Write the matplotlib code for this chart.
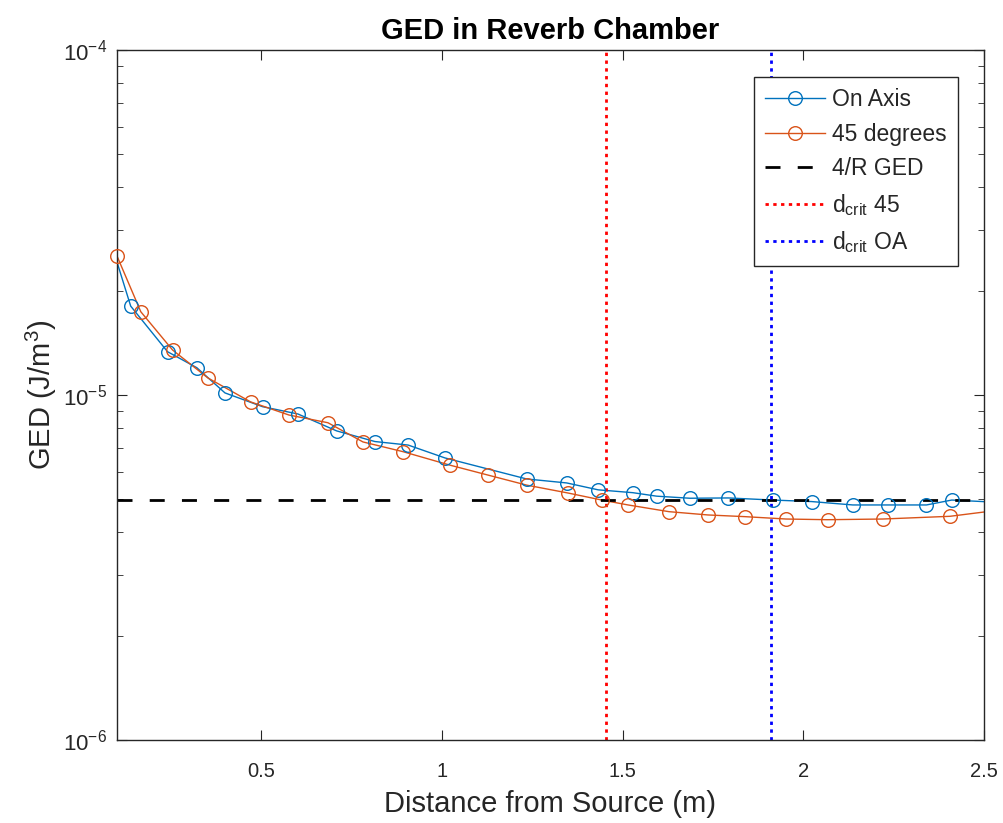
import numpy as np
import matplotlib
matplotlib.use("Agg")
import matplotlib.pyplot as plt
from matplotlib.lines import Line2D

plt.rcParams['font.family'] = ['Liberation Sans', 'DejaVu Sans']
plt.rcParams['mathtext.fontset'] = 'custom'
plt.rcParams['mathtext.rm'] = 'Liberation Sans'
plt.rcParams['mathtext.it'] = 'Liberation Sans'

# On Axis measurements (first and last values lie outside the x limits)
oa_x = [0.05, 0.138, 0.240, 0.321, 0.399, 0.503, 0.601, 0.708, 0.814, 0.906, 1.008,
        1.234, 1.345, 1.432, 1.528, 1.594, 1.686, 1.792, 1.916, 2.023, 2.137,
        2.234, 2.341, 2.411, 2.6]
oa_y = [3.58e-5, 1.81e-5, 1.335e-5, 1.20e-5, 1.014e-5, 9.25e-6, 8.81e-6, 7.87e-6,
        7.33e-6, 7.16e-6, 6.57e-6, 5.71e-6, 5.56e-6, 5.31e-6, 5.21e-6, 5.09e-6,
        5.02e-6, 5.03e-6, 4.96e-6, 4.91e-6, 4.80e-6, 4.80e-6, 4.80e-6, 4.96e-6,
        4.85e-6]

# 45 degrees measurements
d45_x = [0.1, 0.166, 0.254, 0.352, 0.470, 0.576, 0.684, 0.781, 0.892, 1.022, 1.127,
         1.234, 1.348, 1.442, 1.515, 1.628, 1.736, 1.838, 1.952, 2.067, 2.220,
         2.406, 2.6]
d45_y = [2.53e-5, 1.743e-5, 1.35e-5, 1.12e-5, 9.55e-6, 8.75e-6, 8.31e-6, 7.31e-6,
         6.85e-6, 6.26e-6, 5.86e-6, 5.48e-6, 5.20e-6, 4.96e-6, 4.80e-6, 4.59e-6,
         4.49e-6, 4.44e-6, 4.37e-6, 4.35e-6, 4.37e-6, 4.45e-6, 4.72e-6]

ged_4r = 4.97e-6
dcrit_45 = 1.454
dcrit_oa = 1.91
xlim = (0.1, 2.5)
ylim = (1e-6, 1e-4)

c_oa = '#0072BD'
c_45 = '#D95319'
axcol = '#262626'

fig = plt.figure(figsize=(10.04, 8.23), dpi=100)
ax = fig.add_axes([0.1165, 0.1009, 0.8635, 0.8383])
ax.set_yscale('log')

mk = dict(marker='o', markersize=9.8, markerfacecolor='none', markeredgewidth=1.0)

# lines (clipped) and markers (only inside limits, not clipped)
ax.plot(oa_x, oa_y, color=c_oa, lw=1.0)
ax.plot(d45_x, d45_y, color=c_45, lw=1.0)
oa_in = [(x, y) for x, y in zip(oa_x, oa_y) if xlim[0] <= x <= xlim[1]]
d45_in = [(x, y) for x, y in zip(d45_x, d45_y) if xlim[0] <= x <= xlim[1]]
ax.plot([p[0] for p in oa_in], [p[1] for p in oa_in], ls='none', color=c_oa, clip_on=False, zorder=3, **mk)
ax.plot([p[0] for p in d45_in], [p[1] for p in d45_in], ls='none', color=c_45, clip_on=False, zorder=3, **mk)

ax.axhline(ged_4r, color='black', lw=2, dashes=(5.4, 6.2))
ax.axvline(dcrit_45, color='red', lw=2, dashes=(1.2, 1.6))
ax.axvline(dcrit_oa, color='blue', lw=2, dashes=(1.2, 1.6))

ax.set_xlim(*xlim)
ax.set_ylim(*ylim)
ax.set_xticks([0.5, 1, 1.5, 2, 2.5])
ax.set_xticklabels(['0.5', '1', '1.5', '2', '2.5'])
ax.tick_params(which='both', direction='in', top=True, right=True, colors=axcol,
               labelcolor=axcol)
ax.tick_params(which='major', length=7)
ax.tick_params(which='minor', length=4)
ax.tick_params(axis='x', labelsize=14.5, pad=16)
ax.tick_params(axis='y', which='major', labelsize=16, pad=7)
for s in ax.spines.values():
    s.set_color(axcol)
    s.set_linewidth(1.0)

ax.set_xlabel('Distance from Source (m)', fontsize=21, color=axcol, labelpad=6)
ax.set_ylabel('GED (J/m$^3$)', fontsize=21, color=axcol, labelpad=3)
ax.set_title('GED in Reverb Chamber', fontsize=21, fontweight='bold', color='black', pad=8)

handles = [
    Line2D([], [], color=c_oa, lw=1.0, **mk),
    Line2D([], [], color=c_45, lw=1.0, **mk),
    Line2D([], [], color='black', lw=2, dashes=(5.4, 6.2)),
    Line2D([], [], color='red', lw=2, dashes=(1.2, 1.6)),
    Line2D([], [], color='blue', lw=2, dashes=(1.2, 1.6)),
]
labels = ['On Axis', '45 degrees', '4/R GED', 'd$_{crit}$ 45', 'd$_{crit}$ OA']
leg = ax.legend(handles, labels, loc='upper right', bbox_to_anchor=(0.970, 0.961),
                fontsize=16.5, frameon=True, fancybox=False, framealpha=1,
                edgecolor=axcol, handlelength=2.6, handletextpad=0.3,
                borderpad=0.5, labelspacing=0.5, borderaxespad=0)
leg.get_frame().set_linewidth(1.0)
for t in leg.get_texts():
    t.set_color(axcol)

fig.savefig('out.png', dpi=100)
